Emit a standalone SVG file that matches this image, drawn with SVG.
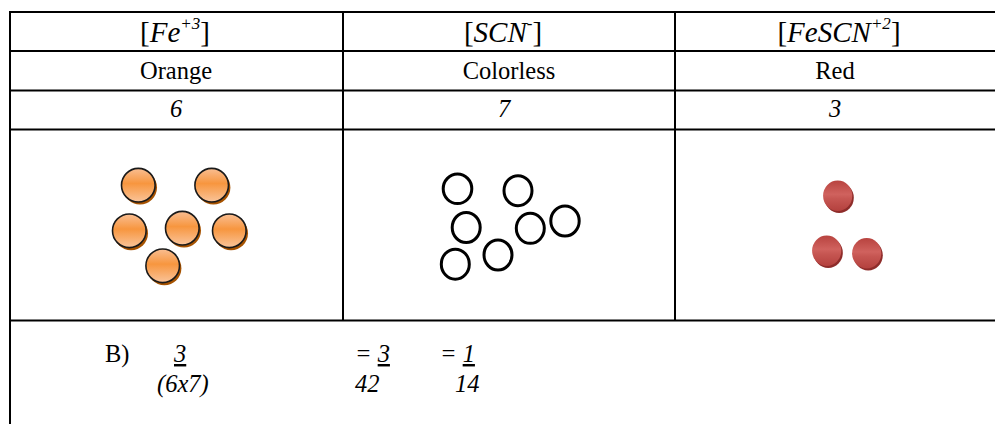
<svg xmlns="http://www.w3.org/2000/svg" width="995" height="424" viewBox="0 0 995 424">
<style>
  text { font-family: "Liberation Serif", "Times New Roman", serif; font-size: 24.5px; fill: #000; }
  .c { text-anchor: middle; }
  .i { font-style: italic; }
  .h { font-size: 29px; }
  .sup { font-size: 17px; font-style: italic; }
  .grid line { stroke: #000; stroke-width: 2; }
  .ring { fill: none; stroke: #000; stroke-width: 3; }
  .or { fill: url(#gOr); stroke: #1a1a1a; stroke-width: 1.6; }
  .orS { fill: #A65200; }
  .rd { fill: url(#gRd); }
  .rdS { fill: #8E2C2A; }
</style>
<defs>
  <linearGradient id="gOr" x1="0" y1="0" x2="0" y2="1">
    <stop offset="0" stop-color="#F9BE92"/>
    <stop offset="0.45" stop-color="#F7963F"/>
    <stop offset="1" stop-color="#FAC49A"/>
  </linearGradient>
  <linearGradient id="gRd" x1="0" y1="0" x2="0" y2="1">
    <stop offset="0" stop-color="#B8433F"/>
    <stop offset="0.45" stop-color="#D0625E"/>
    <stop offset="0.6" stop-color="#C65652"/>
    <stop offset="1" stop-color="#B4413E"/>
  </linearGradient>
</defs>
<rect width="995" height="424" fill="#fff"/>

<g id="grid" class="grid">
  <line x1="10" y1="12" x2="995" y2="12"/>
  <line x1="10" y1="51" x2="995" y2="51"/>
  <line x1="10" y1="90.5" x2="995" y2="90.5"/>
  <line x1="10" y1="129.5" x2="995" y2="129.5"/>
  <line x1="10" y1="320.5" x2="995" y2="320.5"/>
  <line x1="10" y1="11" x2="10" y2="424"/>
  <line x1="343" y1="11" x2="343" y2="321"/>
  <line x1="675" y1="11" x2="675" y2="321"/>
</g>

<g id="head-fe">
  <text class="c h" x="175" y="42">[<tspan class="i">Fe</tspan><tspan class="sup" dy="-13">+3</tspan><tspan dy="13">]</tspan></text>
</g>
<g id="head-scn">
  <text class="c h" x="503" y="42">[<tspan class="i">SCN</tspan><tspan class="sup" dy="-13">-</tspan><tspan dy="13">]</tspan></text>
</g>
<g id="head-fescn">
  <text class="c h" x="839" y="42">[<tspan class="i">FeSCN</tspan><tspan class="sup" dy="-13">+2</tspan><tspan dy="13">]</tspan></text>
</g>

<g id="color-fe"><text class="c" x="176" y="79">Orange</text></g>
<g id="color-scn"><text class="c" x="509" y="79">Colorless</text></g>
<g id="color-fescn"><text class="c" x="835" y="79">Red</text></g>

<g id="count-fe"><text class="c i" x="176" y="117">6</text></g>
<g id="count-scn"><text class="c i" x="504" y="117">7</text></g>
<g id="count-fescn"><text class="c i" x="835" y="117">3</text></g>

<g id="particles-fe">
  <circle class="orS" cx="140" cy="187.5" r="17"/>
  <circle class="or" cx="138.3" cy="185.2" r="16.8"/>
  <circle class="orS" cx="213.4" cy="187.5" r="17"/>
  <circle class="or" cx="211.7" cy="185.2" r="16.8"/>
  <circle class="orS" cx="131" cy="233.3" r="17"/>
  <circle class="or" cx="129.3" cy="230.8" r="16.8"/>
  <circle class="orS" cx="184" cy="230.5" r="17"/>
  <circle class="or" cx="182.3" cy="228.2" r="16.8"/>
  <circle class="orS" cx="231" cy="233.3" r="17"/>
  <circle class="or" cx="229.3" cy="230.8" r="16.8"/>
  <circle class="orS" cx="164.4" cy="268.3" r="17"/>
  <circle class="or" cx="162.7" cy="265.8" r="16.8"/>
</g>

<g id="particles-scn">
  <ellipse class="ring" cx="457.5" cy="188.8" rx="14.3" ry="14.8"/>
  <ellipse class="ring" cx="518" cy="190.7" rx="14" ry="15"/>
  <ellipse class="ring" cx="466.2" cy="227.5" rx="14" ry="15"/>
  <ellipse class="ring" cx="530.3" cy="228.3" rx="14" ry="15"/>
  <ellipse class="ring" cx="565" cy="221" rx="14.2" ry="15"/>
  <ellipse class="ring" cx="498" cy="255" rx="14" ry="15"/>
  <ellipse class="ring" cx="455.3" cy="264.2" rx="14" ry="15"/>
</g>

<g id="particles-fescn">
  <ellipse class="rdS" cx="839.2" cy="197.8" rx="14.6" ry="15.2"/>
  <ellipse class="rd" cx="837.7" cy="195.8" rx="14.6" ry="15.2"/>
  <ellipse class="rdS" cx="828.2" cy="252.8" rx="14.6" ry="15.2"/>
  <ellipse class="rd" cx="826.7" cy="250.8" rx="14.6" ry="15.2"/>
  <ellipse class="rdS" cx="868.2" cy="255.3" rx="14.6" ry="15.2"/>
  <ellipse class="rd" cx="866.7" cy="253.3" rx="14.6" ry="15.2"/>
</g>

<g id="calc">
  <text x="105" y="362">B)</text>
  <text class="i" x="174" y="362" text-decoration="underline">3</text>
  <text class="i" x="157" y="392">(6x7)</text>
  <text x="355" y="362"><tspan class="i">= </tspan><tspan class="i" text-decoration="underline">3</tspan></text>
  <text x="440" y="362"><tspan class="i">= </tspan><tspan class="i" text-decoration="underline">1</tspan></text>
  <text class="i" x="355" y="392">42</text>
  <text class="i" x="455" y="392">14</text>
</g>
</svg>
